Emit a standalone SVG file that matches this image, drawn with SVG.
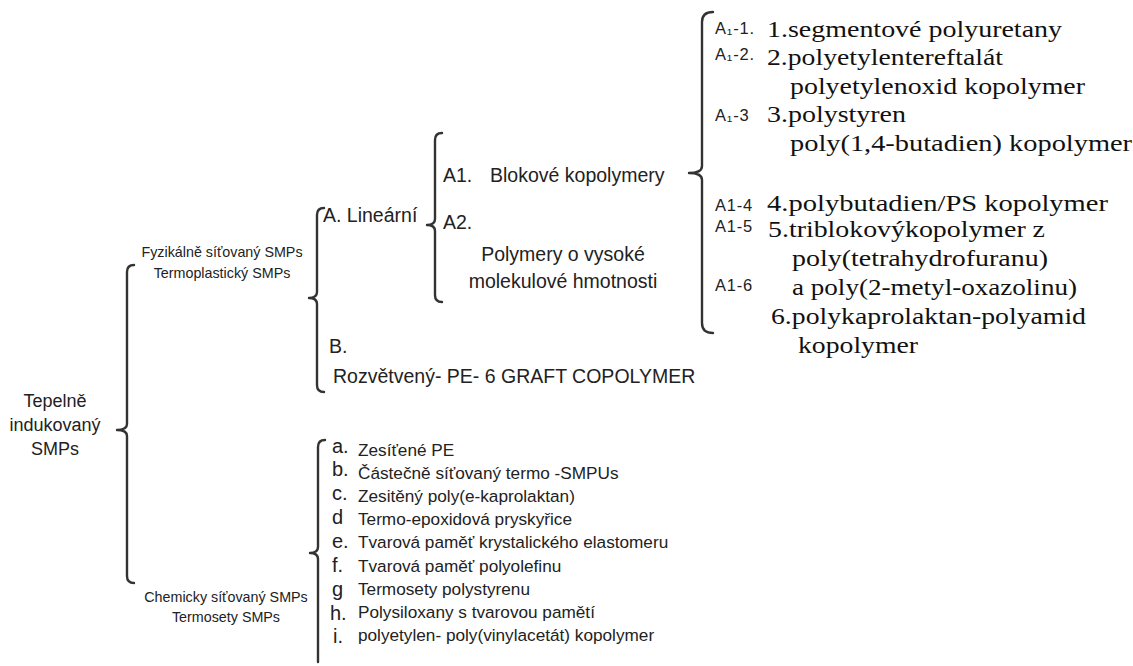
<svg xmlns="http://www.w3.org/2000/svg" width="1133" height="666" viewBox="0 0 1133 666">
<style>
.s{font-family:"Liberation Sans",Arial,"DejaVu Sans",sans-serif;fill:#222}
.m{font-size:19.5px}
.k{font-size:14.3px}
.l{font-size:17.2px}
.lt{font-size:20px}
.lab{font-size:16.5px;letter-spacing:0.8px}
.r{font-family:"Liberation Serif","Times New Roman","DejaVu Serif",serif;font-size:24px;fill:#111}
.br{fill:none;stroke:#333;stroke-width:2.4;stroke-linecap:round;stroke-linejoin:round}
</style>
<rect width="1133" height="666" fill="#fff"/>
<g id="connectors">
<path class="br" d="M134,265 Q127,265 127,272 L127,424 Q127,430 117,430 Q127,430 127,436 L127,576 Q127,583 134,583"/>
<path class="br" d="M324,208 Q317,208 317,215 L317,292 Q317,298 309,298 Q317,298 317,304 L317,385 Q317,392 324,392"/>
<path class="br" d="M442,133 Q435,133 435,140 L435,219 Q435,225 427,225 Q435,225 435,231 L435,295 Q435,302 442,302"/>
<path class="br" d="M713,12 Q702,12 702,22 L702,166 Q702,173 689,173 Q702,173 702,180 L702,323 Q702,333 713,333"/>
<path class="br" d="M325,440 Q318,440 318,447 L318,547 Q318,553 310,553 Q318,553 318,559 L318,662"/>
</g>
<g id="root">
<text class="s" font-size="18px" text-anchor="middle" x="55" y="407">Tepelně</text>
<text class="s" font-size="18px" text-anchor="middle" x="55" y="431">indukovaný</text>
<text class="s" font-size="18px" text-anchor="middle" x="55" y="455">SMPs</text>
</g>
<g id="fyzikalne">
<text class="s k" text-anchor="middle" x="222" y="257">Fyzikálně síťovaný SMPs</text>
<text class="s k" text-anchor="middle" x="222" y="278">Termoplastický SMPs</text>
</g>
<g id="chemicky">
<text class="s k" text-anchor="middle" x="226" y="602">Chemicky síťovaný SMPs</text>
<text class="s k" text-anchor="middle" x="226" y="622">Termosety SMPs</text>
</g>
<g id="linearni">
<text class="s m" x="323" y="222">A. Lineární</text>
</g>
<g id="a1">
<text class="s m" x="443" y="182">A1.</text>
<text class="s m" x="490" y="182">Blokové kopolymery</text>
</g>
<g id="a2">
<text class="s m" x="443" y="229">A2.</text>
<text class="s m" text-anchor="middle" x="563" y="261">Polymery o vysoké</text>
<text class="s m" text-anchor="middle" x="563" y="288">molekulové hmotnosti</text>
</g>
<g id="b">
<text class="s m" x="329" y="353">B.</text>
<text class="s m" x="333" y="383">Rozvětvený- PE- 6 GRAFT COPOLYMER</text>
</g>
<g id="a1-list">
<text class="s lab" x="715" y="34">A₁-1.</text>
<text class="r" x="767" y="37" textLength="295" lengthAdjust="spacingAndGlyphs">1.segmentové polyuretany</text>
<text class="s lab" x="715" y="60">A₁-2.</text>
<text class="r" x="767" y="65" textLength="236" lengthAdjust="spacingAndGlyphs">2.polyetylentereftalát</text>
<text class="r" x="790" y="94" textLength="295" lengthAdjust="spacingAndGlyphs">polyetylenoxid kopolymer</text>
<text class="s lab" x="715" y="121">A₁-3</text>
<text class="r" x="767" y="122" textLength="139" lengthAdjust="spacingAndGlyphs">3.polystyren</text>
<text class="r" x="790" y="151" textLength="342" lengthAdjust="spacingAndGlyphs">poly(1,4-butadien) kopolymer</text>
<text class="s lab" x="715" y="211">A1-4</text>
<text class="r" x="767" y="211" textLength="341" lengthAdjust="spacingAndGlyphs">4.polybutadien/PS kopolymer</text>
<text class="s lab" x="715" y="232">A1-5</text>
<text class="r" x="768" y="237" textLength="277" lengthAdjust="spacingAndGlyphs">5.triblokovýkopolymer z</text>
<text class="r" x="792" y="266" textLength="256" lengthAdjust="spacingAndGlyphs">poly(tetrahydrofuranu)</text>
<text class="s lab" x="715" y="291">A1-6</text>
<text class="r" x="792" y="295" textLength="285" lengthAdjust="spacingAndGlyphs">a poly(2-metyl-oxazolinu)</text>
<text class="r" x="771" y="324" textLength="315" lengthAdjust="spacingAndGlyphs">6.polykaprolaktan-polyamid</text>
<text class="r" x="798" y="353" textLength="120" lengthAdjust="spacingAndGlyphs">kopolymer</text>
</g>
<g id="chem-list">
<text class="s lt" x="332" y="453">a.</text><text class="s l" x="358" y="456">Zesíťené PE</text>
<text class="s lt" x="332" y="476">b.</text><text class="s l" x="358" y="479">Částečně síťovaný termo -SMPUs</text>
<text class="s lt" x="332" y="500">c.</text><text class="s l" x="358" y="502">Zesitěný poly(e-kaprolaktan)</text>
<text class="s lt" x="332" y="524">d</text><text class="s l" x="358" y="525">Termo-epoxidová pryskyřice</text>
<text class="s lt" x="332" y="548">e.</text><text class="s l" x="358" y="548">Tvarová paměť krystalického elastomeru</text>
<text class="s lt" x="332" y="572">f.</text><text class="s l" x="358" y="572">Tvarová paměť polyolefinu</text>
<text class="s lt" x="332" y="596">g</text><text class="s l" x="358" y="595">Termosety polystyrenu</text>
<text class="s lt" x="330" y="620">h.</text><text class="s l" x="358" y="618">Polysiloxany s tvarovou pamětí</text>
<text class="s lt" x="333" y="643">i.</text><text class="s l" x="358" y="641">polyetylen- poly(vinylacetát) kopolymer</text>
</g>
</svg>
